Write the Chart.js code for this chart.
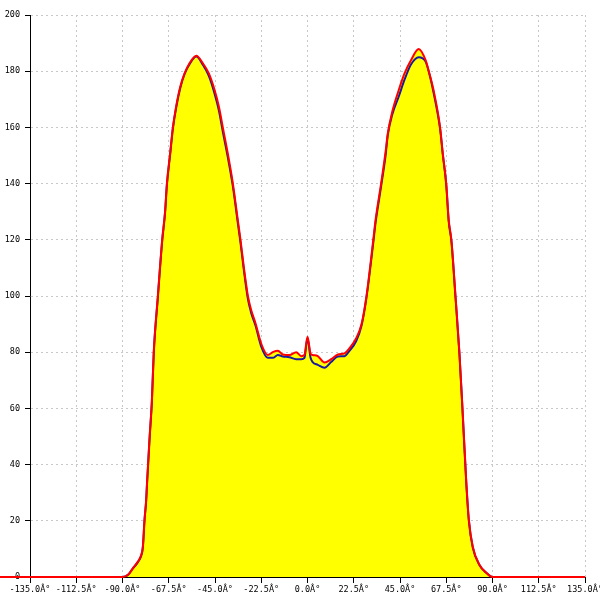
<!DOCTYPE html>
<html>
<head>
  <meta charset="UTF-8">
  <title>Pattern</title>
  <script src="https://cdn.jsdelivr.net/npm/chart.js"></script>
  <style>
    html, body { margin: 0; padding: 0; background: #fff; }
    #wrap { width: 600px; height: 600px; }
  </style>
</head>
<body>
  <div id="wrap"><canvas id="pattern"></canvas></div>

  <script>
    // angles in degrees (x), shared by both cuts
    const angles = [
      -150, -135, -90, -87, -85, -82.5, -80.9, -80.1, -79.3, -78.5, -78, -76.8, -75.7, -74.8, -72.8,
      -70.7, -69.3, -68.4, -66.8, -65.5, -63.9, -61.9, -59.8, -57.4, -54.1, -50.9, -48, -45.2,
      -43.1, -41.2, -38.8, -36.3, -33.9, -32.6, -31, -29, -27.4, -25.3, -22.5, -19.3, -16.9,
      -14.4, -12, -8.8, -5.5, -3, -1.5, 0, 1.5, 2.5, 5, 8.3, 11.5, 14.8, 18, 20.4, 23.7, 26.3,
      28.7, 32, 33.1, 35.8, 37.9, 39.1, 41.2, 44.4, 47.2, 50.4, 54.1, 57.4, 59.3, 61.3, 64.5,
      65.8, 67.5, 68.7, 70, 72, 73.9, 75.4, 77.2, 78.5, 80.4, 83.7, 87, 90, 135, 150
    ];

    const redCut = [
      0, 0, 0, 1, 3.1, 5.5, 7.8, 10.8, 20.3, 27.4, 34.5, 50, 63, 80, 100,
      120, 130, 140, 151, 160, 167.5, 174.5, 179.2, 182.8, 185.5, 182.8, 179.2, 173.3,
      167.4, 160, 150.8, 140, 127, 120, 110.4, 100, 95, 90.3, 83, 79, 80,
      80.5, 79.2, 79, 80, 78.6, 79, 85.5, 79.5, 79, 78.6, 76.3, 77.5, 79.2, 79.6, 81.4, 85, 90,
      100, 120, 127, 140, 150.8, 158, 165.5, 173.3, 179.2, 184, 187.9, 184, 179.2, 173.3, 160,
      150.8, 140, 127, 120, 100, 80, 60, 34.5, 20.3, 10.8, 4.3, 1.5, 0, 0, 0
    ];

    const blueCut = [
      0, 0, 0, 1, 3, 5.3, 7.6, 10.5, 20, 27, 34, 49.5, 62.5, 79.5, 99.5,
      119.5, 129.5, 139.5, 150.5, 159.5, 167, 174, 179, 182.5, 185.2, 182.3, 178.3, 172,
      166, 158.5, 149.5, 139, 126, 119, 109.5, 99, 94, 89.5, 82, 78, 78,
      79, 78.5, 78.2, 77.5, 77.5, 78, 85, 78, 76.5, 75.5, 74.5, 76.5, 78.5, 78.6, 80.5, 84, 89.5,
      99.5, 119, 126, 139, 149.5, 157.5, 164.5, 171, 177, 182.5, 185, 183.5, 179, 172.5, 159.5,
      150.5, 139.5, 126.5, 119.5, 99.5, 79.5, 59.5, 34, 20, 10.5, 4.2, 1.5, 0, 0, 0
    ];

    const xTicks = [-135, -112.5, -90, -67.5, -45, -22.5, 0, 22.5, 45, 67.5, 90, 112.5, 135];
    const yTicks = [0, 20, 40, 60, 80, 100, 120, 140, 160, 180, 200];

    const tickFont = { family: 'DejaVu Sans Mono', size: 8.5 };

    new Chart(document.getElementById('pattern'), {
      type: 'line',
      data: {
        datasets: [
          {
            data: angles.map((a, i) => ({ x: a, y: redCut[i] })),
            borderColor: '#ff0000',
            borderWidth: 2,
            backgroundColor: '#ffff00',
            fill: 'origin',
            pointRadius: 0,
            cubicInterpolationMode: 'monotone',
            clip: false
          },
          {
            data: angles.map((a, i) => ({ x: a, y: blueCut[i] })),
            borderColor: '#1a1aa0',
            borderWidth: 2,
            fill: false,
            pointRadius: 0,
            cubicInterpolationMode: 'monotone'
          }
        ]
      },
      options: {
        responsive: true,
        maintainAspectRatio: false,
        animation: false,
        layout: { padding: { top: 15, right: 15, left: 0, bottom: 0 } },
        plugins: {
          legend: { display: false },
          tooltip: { enabled: false },
          filler: { drawTime: 'beforeDatasetsDraw' }
        },
        scales: {
          x: {
            type: 'linear',
            min: -135,
            max: 135,
            afterBuildTicks: s => { s.ticks = xTicks.map(v => ({ value: v })); },
            afterFit: s => { s.height = 23; s.paddingLeft = 0; s.paddingRight = 0; },
            ticks: {
              autoSkip: false,
              maxRotation: 0,
              padding: 2,
              color: '#000',
              font: tickFont,
              callback: v => v.toFixed(1) + 'Â°'
            },
            grid: { color: '#c8c8c8', tickColor: '#000', tickLength: 6, tickBorderDash: [] },
            border: { display: true, color: '#000', width: 1, dash: [2, 3] }
          },
          y: {
            min: 0,
            max: 200,
            afterBuildTicks: s => { s.ticks = yTicks.map(v => ({ value: v })); },
            afterFit: s => { s.width = 30; },
            ticks: { padding: 5, color: '#000', font: tickFont },
            grid: { color: '#c8c8c8', tickColor: '#000', tickLength: 5, tickBorderDash: [] },
            border: { display: true, color: '#000', width: 1, dash: [2, 3] }
          }
        }
      }
    });
  </script>
</body>
</html>
